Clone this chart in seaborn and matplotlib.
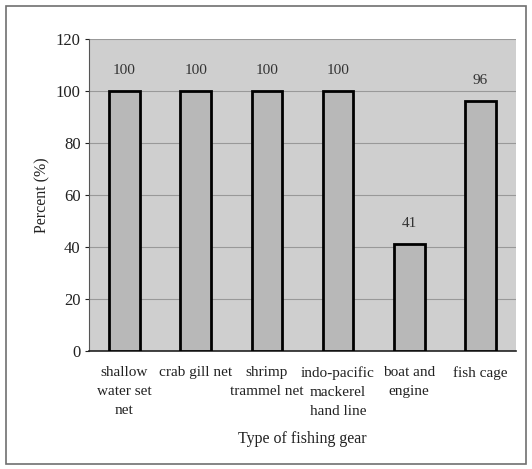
import matplotlib
matplotlib.use("Agg")
import matplotlib.pyplot as plt
import seaborn as sns
import pandas as pd
from matplotlib.patches import Rectangle

categories = ["shallow\nwater set\nnet", "crab gill net", "shrimp\ntrammel net",
              "indo-pacific\nmackerel\nhand line", "boat and\nengine", "fish cage"]
values = [100, 100, 100, 100, 41, 96]
yticks = [0, 20, 40, 60, 80, 100, 120]

sns.set_style("white")
plt.rcParams['font.family'] = ['Liberation Serif', 'DejaVu Serif']

df = pd.DataFrame({"gear": categories, "pct": values})

fig = plt.figure(figsize=(5.32, 4.69), dpi=100)
fig.patch.set_facecolor("white")
fig.add_artist(Rectangle((0.011, 0.011), 0.978, 0.976, transform=fig.transFigure,
                         fill=False, edgecolor="#707070", linewidth=1.2))
ax = fig.add_axes([0.167, 0.2516, 0.803, 0.665])
ax.set_facecolor("#cfcfcf")

sns.barplot(data=df, x="gear", y="pct", ax=ax, color="#b8b8b8", width=0.43,
            edgecolor="black", linewidth=2, saturation=1, zorder=3)

ax.set_ylim(0, 120)
ax.set_yticks(yticks)
ax.yaxis.grid(True, color="#999999", linewidth=0.8, zorder=1)
ax.set_axisbelow(True)
ax.set_xlim(-0.5, 5.5)

for i, v in enumerate(values):
    ax.text(i, v + 5.5, f"{v}", ha="center", va="bottom", fontsize=11, color="#333333")

for s in ["top", "right"]:
    ax.spines[s].set_visible(False)
ax.spines["left"].set_color("#555555")
ax.spines["bottom"].set_color("#222222")
ax.spines["left"].set_linewidth(0.8)
ax.spines["bottom"].set_linewidth(1.2)

ax.tick_params(axis="y", labelsize=12, length=3, direction="out", left=True, pad=3, colors="#222222")
ax.tick_params(axis="x", labelsize=11, length=0, pad=11, colors="#222222")
for lab in ax.get_xticklabels():
    lab.set_linespacing(1.6)

ax.set_xlabel("Type of fishing gear", fontsize=11.5, labelpad=9, color="#222222")
ax.set_ylabel("Percent (%)", fontsize=11.5, labelpad=4, color="#222222")

fig.savefig("out.png", dpi=100)
